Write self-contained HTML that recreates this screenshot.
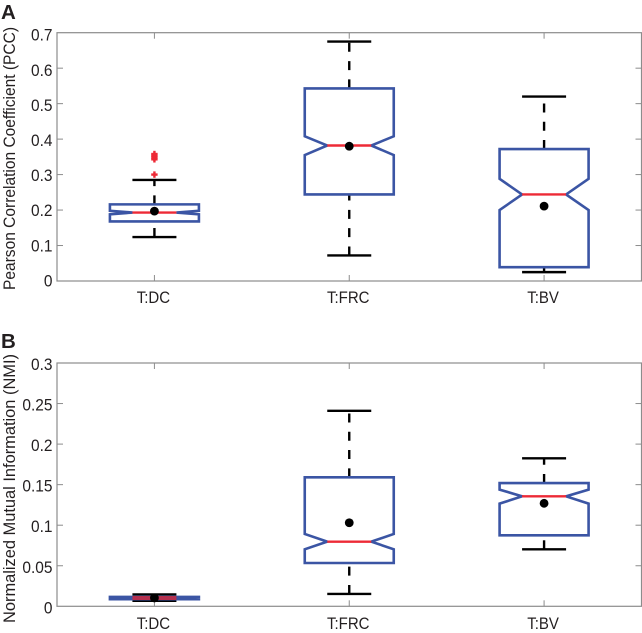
<!DOCTYPE html>
<html>
<head>
<meta charset="utf-8">
<title>PCC and NMI notched box plots</title>
<style>
html,body{margin:0;padding:0;background:#fff;width:642px;height:633px;overflow:hidden}
svg{display:block}
text{font-family:"Liberation Sans",sans-serif;fill:#231f20}
</style>
</head>
<body>
<svg id="chart" width="642" height="633" viewBox="0 0 642 633" xmlns="http://www.w3.org/2000/svg"></svg>
<script>
const categories = ['T:DC', 'T:FRC', 'T:BV'];

const pccTicks = [0, 0.1, 0.2, 0.3, 0.4, 0.5, 0.6, 0.7];
const pccTickLabels = ['0', '0.1', '0.2', '0.3', '0.4', '0.5', '0.6', '0.7'];
const pccWhiskerLow = [0.124, 0.072, 0.025];
const pccQ1 = [0.168, 0.244, 0.039];
const pccNotchLow = [0.188, 0.355, 0.2];
const pccMedian = [0.193, 0.382, 0.244];
const pccNotchHigh = [0.198, 0.408, 0.288];
const pccQ3 = [0.216, 0.543, 0.372];
const pccWhiskerHigh = [0.285, 0.675, 0.52];
const pccMean = [0.197, 0.38, 0.211];
const pccOutliers = [[0.3, 0.343, 0.348, 0.353, 0.358], [], []];

const nmiTicks = [0, 0.05, 0.1, 0.15, 0.2, 0.25, 0.3];
const nmiTickLabels = ['0', '0.05', '0.1', '0.15', '0.2', '0.25', '0.3'];
const nmiWhiskerLow = [0.0068, 0.0152, 0.0703];
const nmiQ1 = [0.0088, 0.0534, 0.0875];
const nmiNotchLow = [0.0095, 0.0703, 0.1266];
const nmiMedian = [0.0102, 0.0797, 0.1356];
const nmiNotchHigh = [0.0109, 0.0892, 0.1439];
const nmiQ3 = [0.0116, 0.159, 0.152];
const nmiWhiskerHigh = [0.0146, 0.241, 0.1825];
const nmiMean = [0.0103, 0.103, 0.127];
const nmiOutliers = [[], [], []];

const svg = document.getElementById('chart');
const NS = 'http://www.w3.org/2000/svg';

function add(tag, attrs, parent) {
  const el = document.createElementNS(NS, tag);
  for (const k in attrs) el.setAttribute(k, attrs[k]);
  (parent || svg).appendChild(el);
  return el;
}

function line(x1, y1, x2, y2, stroke, width, parent, dash) {
  const attrs = { x1: x1, y1: y1, x2: x2, y2: y2, stroke: stroke, 'stroke-width': width };
  if (dash) attrs['stroke-dasharray'] = dash;
  return add('line', attrs, parent);
}

function squeeze(el, factor) {
  el.setAttribute('textLength', (el.getComputedTextLength() * factor).toFixed(2));
  el.setAttribute('lengthAdjust', 'spacingAndGlyphs');
}

function drawPanel(p) {
  const left = 57, right = 641.5;
  const g = add('g', {});
  
  

  const xScale = v => left + (v - 0.5) * (right - left) / 3;
  const yScale = v => p.bottom - (v / p.yMax) * (p.bottom - p.top);

  const frame = add('rect', { x: left, y: p.top, width: right - left, height: p.bottom - p.top, fill: 'none', stroke: '#8c8c8c', 'stroke-width': 1.2 }, g);
  
  

  p.ticks.forEach((t, i) => {
    const y = yScale(t);
    if (i > 0 && i < p.ticks.length - 1) {
      const lt = line(left, y, left + 6, y, '#8c8c8c', 1, g);
      
      
      const rt = line(right - 6, y, right, y, '#8c8c8c', 1, g);
      
      
    }
    const label = add('text', { x: 52.5, y: y + p.labelShift + p.labelSlope * (t / p.yMax), 'text-anchor': 'end', 'font-size': 17 }, g);
    label.textContent = p.tickLabels[i];
    squeeze(label, 0.91);
    
    
  });

  categories.forEach((c, i) => {
    const x = xScale(i + 1);
    const bt = line(x, p.bottom, x, p.bottom - 6, '#8c8c8c', 1, g);
    
    
    const tt = line(x, p.top, x, p.top + 6, '#8c8c8c', 1, g);
    
    
    const label = add('text', { x: x - 1, y: p.xLabelY, 'text-anchor': 'middle', 'font-size': 16.5 }, g);
    label.textContent = c;
    squeeze(label, 0.91);
    
    
  });

  const ytitle = add('text', { transform: 'translate(15,' + p.titleBottom + ') rotate(-90)', x: 0, y: 0, 'font-size': 17, textLength: p.titleLength, lengthAdjust: 'spacingAndGlyphs' }, g);
  ytitle.textContent = p.title;
  
  

  const letter = add('text', { x: 1, y: p.letterY, 'font-size': 20.5, 'font-weight': 'bold' }, g);
  letter.textContent = p.letter;
  
  

  const boxHalf = 44.5, notchHalf = 22, capHalf = 22;
  categories.forEach((c, i) => {
    const x = xScale(i + 1);
    const b = add('g', {}, g);
    
    

    const up = line(x, yScale(p.q3[i]), x, yScale(p.high[i]), '#000', 2.4, b, '9 9.3');
    
    
    const low = line(x, yScale(p.low[i]), x, yScale(p.q1[i]), '#000', 2.4, b, '9 9.3');
    
    
    const capHi = line(x - capHalf, yScale(p.high[i]), x + capHalf, yScale(p.high[i]), '#000', 2.4, b);
    
    
    const capLo = line(x - capHalf, yScale(p.low[i]), x + capHalf, yScale(p.low[i]), '#000', 2.4, b);
    
    

    const yT = yScale(p.q3[i]), yB = yScale(p.q1[i]);
    const yH = yScale(p.notchHigh[i]), yL = yScale(p.notchLow[i]), yM = yScale(p.median[i]);
    const pts = [
      [x - boxHalf, yT], [x + boxHalf, yT], [x + boxHalf, yH], [x + notchHalf, yM],
      [x + boxHalf, yL], [x + boxHalf, yB], [x - boxHalf, yB], [x - boxHalf, yL],
      [x - notchHalf, yM], [x - boxHalf, yH]
    ].map(q => q.join(',')).join(' ');
    const box = add('polygon', { points: pts, fill: 'none', stroke: '#3b55a4', 'stroke-width': 2.6 }, b);
    
    

    const collapsed = yB - yT < 4;
    const med = line(x - notchHalf, yM, x + notchHalf, yM, collapsed ? '#b5304f' : '#ed2a36', collapsed ? 4 : 2.4, b);
    
    

    p.outliers[i].forEach(o => {
      const oy = yScale(o);
      const h = line(x - 3.2, oy, x + 3.2, oy, '#ed2a36', 2.4, b);
      
      
      const v = line(x, oy - 3.2, x, oy + 3.2, '#ed2a36', 2.4, b);
      
      
    });

    const dot = add('circle', { cx: x, cy: yScale(p.mean[i]), r: 4.4, fill: '#000' }, b);
    
    
  });
}

drawPanel({
  name: 'pcc', letter: 'A', letterY: 19, top: 32.7, bottom: 281, yMax: 0.7,
  ticks: pccTicks, tickLabels: pccTickLabels, labelShift: 5.4, labelSlope: 2.6,
  xLabelY: 303, title: 'Pearson Correlation Coefficient (PCC)', titleBottom: 290, titleLength: 263,
  low: pccWhiskerLow, q1: pccQ1, notchLow: pccNotchLow, median: pccMedian,
  notchHigh: pccNotchHigh, q3: pccQ3, high: pccWhiskerHigh, mean: pccMean, outliers: pccOutliers
});

drawPanel({
  name: 'nmi', letter: 'B', letterY: 348, top: 363, bottom: 606.3, yMax: 0.3,
  ticks: nmiTicks, tickLabels: nmiTickLabels, labelShift: 7, labelSlope: 0,
  xLabelY: 629, title: 'Normalized Mutual Information (NMI)', titleBottom: 623, titleLength: 269,
  low: nmiWhiskerLow, q1: nmiQ1, notchLow: nmiNotchLow, median: nmiMedian,
  notchHigh: nmiNotchHigh, q3: nmiQ3, high: nmiWhiskerHigh, mean: nmiMean, outliers: nmiOutliers
});
</script>
</body>
</html>
